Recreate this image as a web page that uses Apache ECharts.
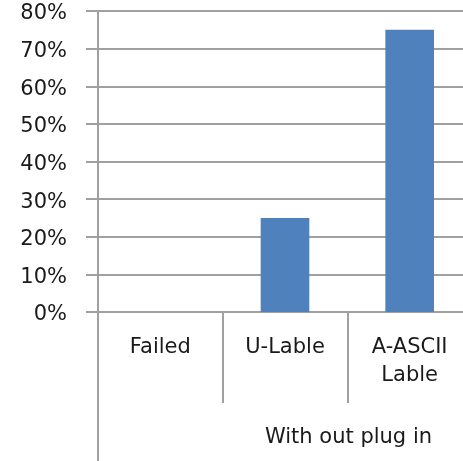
<!DOCTYPE html>
<html>
<head>
<meta charset="utf-8">
<script src="https://cdn.jsdelivr.net/npm/echarts@6/dist/echarts.min.js"></script>
<style>
  html, body { margin: 0; padding: 0; background: #fff; overflow: hidden; }
  /* the reference is cropped on the right, so the chart is a bit wider than the window */
  #chart { width: 474px; height: 461px; }
</style>
</head>
<body>
<div id="chart"></div>
<script>
// data
var categories = ['Failed', 'U-Lable', 'A-ASCII\nLable'];
var groupLabels = ['With out plug in'];
var values = [0, 0.25, 0.75];
var yTicks = { min: 0, max: 0.8, step: 0.1 };

var lineGray = '#a0a0a0';
var textColor = '#1a1a1a';
var font = 'DejaVu Sans';

var chart = echarts.init(document.getElementById('chart'));
chart.setOption({
    animation: false,
    grid: { left: 98, top: 11, right: 2, height: 301 },
    xAxis: [
        {
            type: 'category',
            data: categories,
            axisLine: { lineStyle: { color: lineGray, width: 2 } },
            axisTick: { show: true, interval: 0, length: 91, lineStyle: { color: lineGray, width: 2 } },
            axisLabel: {
                interval: 0,
                margin: 22,
                color: textColor,
                fontFamily: font,
                fontSize: 21,
                lineHeight: 28
            }
        },
        {
            type: 'category',
            position: 'bottom',
            offset: 91,
            data: groupLabels,
            axisLine: { show: false },
            axisTick: { show: true, interval: 0, length: 58, lineStyle: { color: lineGray, width: 2 } },
            axisLabel: {
                interval: 0,
                margin: 24,
                color: textColor,
                fontFamily: font,
                fontSize: 21,
                padding: [0, 0, 0, 127]
            }
        }
    ],
    yAxis: {
        type: 'value',
        min: yTicks.min,
        max: yTicks.max,
        interval: yTicks.step,
        axisLine: { show: true, lineStyle: { color: lineGray, width: 2 } },
        axisTick: { show: true, length: 12, lineStyle: { color: lineGray, width: 2 } },
        splitLine: { lineStyle: { color: lineGray, width: 2 } },
        axisLabel: {
            margin: 31,
            color: textColor,
            fontFamily: font,
            fontSize: 21,
            verticalAlign: 'top',
            lineHeight: 6,
            formatter: function (v) { return Math.round(v * 100) + '%'; }
        }
    },
    series: [{
        type: 'bar',
        xAxisIndex: 0,
        data: values,
        barWidth: '39%',
        itemStyle: { color: '#4f81bd' }
    }]
});
</script>
</body>
</html>
